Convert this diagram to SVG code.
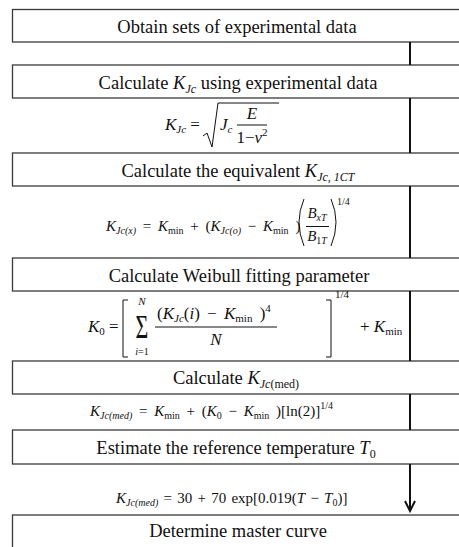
<svg xmlns="http://www.w3.org/2000/svg" width="459" height="547" viewBox="0 0 459 547">
<style>
.box{fill:#fff;stroke:#3a3a3a;stroke-width:1.3}
.t{font-family:"Liberation Serif","Times New Roman",serif;font-size:18.5px;fill:#111}
.f{font-family:"Liberation Serif","Times New Roman",serif;font-size:15px;fill:#111}
.i{font-style:italic}
.m{stroke:#111;stroke-width:1;fill:none}
.c{stroke:#111;stroke-width:2;fill:none}
</style>
<rect width="459" height="547" fill="#fff"/>
<g id="n1"><rect class="box" x="12.5" y="9.5" width="460" height="32.5"/>
<text class="t" x="237" y="33" text-anchor="middle">Obtain sets of experimental data</text></g>
<g id="n2"><rect class="box" x="12.5" y="65" width="460" height="33"/>
<text class="t" x="238" y="88.5" text-anchor="middle">Calculate <tspan class="i">K</tspan><tspan class="i" font-size="12" dy="4">Jc</tspan><tspan dy="-4"> using experimental data</tspan></text></g>
<g id="f1">
<text class="f" style="font-size:17px" x="165" y="130"><tspan class="i">K</tspan><tspan class="i" font-size="11" dy="3">Jc</tspan><tspan dy="-3"> =</tspan></text>
<polyline class="m" points="203,136 207,133 212,147 218,103 279,103"/>
<text class="f" style="font-size:17px" x="220" y="130"><tspan class="i">J</tspan><tspan class="i" font-size="11" dy="3">c</tspan></text>
<text class="f i" style="font-size:17px" x="252" y="119" text-anchor="middle">E</text>
<line class="m" x1="237" y1="125" x2="267" y2="125"/>
<text class="f" style="font-size:17px" x="252" y="143" text-anchor="middle">1−<tspan class="i">ν</tspan><tspan font-size="11" dy="-7">2</tspan></text>
</g>
<g id="n3"><rect class="box" x="12.5" y="153" width="460" height="33"/>
<text class="t" x="238" y="176.5" text-anchor="middle">Calculate the equivalent <tspan class="i">K</tspan><tspan class="i" font-size="12" dy="4">Jc, 1CT</tspan></text></g>
<g id="f2">
<text class="f" x="106" y="231" word-spacing="3"><tspan class="i">K</tspan><tspan class="i" font-size="10" dy="3">Jc(x)</tspan><tspan dy="-3"> = </tspan><tspan class="i">K</tspan><tspan font-size="10" dy="3">min</tspan><tspan dy="-3"> + (</tspan><tspan class="i">K</tspan><tspan class="i" font-size="10" dy="3">Jc(o)</tspan><tspan dy="-3"> − </tspan><tspan class="i">K</tspan><tspan font-size="10" dy="3">min</tspan><tspan dy="-3"> )</tspan></text>
<path class="m" d="M304,199 Q294,222 304,246"/>
<text class="f i" x="317" y="218" text-anchor="middle">B<tspan font-size="10" dy="3">xT</tspan></text>
<line class="m" x1="306" y1="226.5" x2="329" y2="226.5"/>
<text class="f" x="317" y="241" text-anchor="middle"><tspan class="i">B</tspan><tspan font-size="10" dy="3">1<tspan class="i">T</tspan></tspan></text>
<path class="m" d="M331,199 Q341,222 331,246"/>
<text class="f" x="337" y="205" style="font-size:10px">1/4</text>
</g>
<g id="n4"><rect class="box" x="12.5" y="258" width="460" height="33"/>
<text class="t" x="239" y="281.5" text-anchor="middle">Calculate Weibull fitting parameter</text></g>
<g id="f3">
<text class="f" style="font-size:17px" x="88" y="332"><tspan class="i">K</tspan><tspan font-size="11" dy="3">0</tspan><tspan dy="-3"> =</tspan></text>
<polyline class="m" points="128,300 123,300 123,357 128,357"/>
<text class="f" transform="translate(142,338) scale(1,1.55)" text-anchor="middle" style="font-size:22px">Σ</text>
<text class="f i" x="142" y="305" text-anchor="middle" style="font-size:11px">N</text>
<text class="f" x="142" y="355" text-anchor="middle" style="font-size:10px"><tspan class="i">i</tspan>=1</text>
<text class="f" style="font-size:17px" x="157" y="319" word-spacing="3">(<tspan class="i">K</tspan><tspan class="i" font-size="11" dy="3">Jc</tspan><tspan dy="-3">(<tspan class="i">i</tspan>) − </tspan><tspan class="i">K</tspan><tspan font-size="11" dy="3">min</tspan><tspan dy="-3"> )</tspan><tspan font-size="11" dy="-7">4</tspan></text>
<line class="m" x1="155" y1="327" x2="277" y2="327"/>
<text class="f i" style="font-size:17px" x="216" y="345" text-anchor="middle">N</text>
<polyline class="m" points="326,300 331,300 331,357 326,357"/>
<text class="f" x="335" y="298" style="font-size:11px">1/4</text>
<text class="f" style="font-size:17px" x="360" y="332">+ <tspan class="i">K</tspan><tspan font-size="11" dy="3">min</tspan></text>
</g>
<g id="n5"><rect class="box" x="12.5" y="361" width="460" height="33"/>
<text class="t" x="236" y="384" text-anchor="middle">Calculate <tspan class="i">K</tspan><tspan font-size="12" dy="4"><tspan class="i">Jc</tspan>(med)</tspan></text></g>
<g id="f4">
<text class="f" x="90" y="416" word-spacing="3"><tspan class="i">K</tspan><tspan class="i" font-size="10" dy="3">Jc(med)</tspan><tspan dy="-3"> = </tspan><tspan class="i">K</tspan><tspan font-size="10" dy="3">min</tspan><tspan dy="-3"> + (</tspan><tspan class="i">K</tspan><tspan font-size="10" dy="3">0</tspan><tspan dy="-3"> − </tspan><tspan class="i">K</tspan><tspan font-size="10" dy="3">min</tspan><tspan dy="-3"> )[ln(2)]</tspan><tspan font-size="10" dy="-7">1/4</tspan></text>
</g>
<g id="n6"><rect class="box" x="12.5" y="430" width="460" height="34"/>
<text class="t" x="236" y="453.5" text-anchor="middle">Estimate the reference temperature <tspan class="i">T</tspan><tspan font-size="12" dy="4">0</tspan></text></g>
<g id="f5">
<text class="f" x="116" y="503" word-spacing="1.5"><tspan class="i">K</tspan><tspan class="i" font-size="10" dy="3">Jc(med)</tspan><tspan dy="-3"> = 30 + 70 exp[0.019(</tspan><tspan class="i">T</tspan> − <tspan class="i">T</tspan><tspan font-size="10" dy="3">0</tspan><tspan dy="-3">)]</tspan></text>
</g>
<g id="n7"><rect class="box" x="12.5" y="515" width="460" height="40"/>
<text class="t" x="238" y="537" text-anchor="middle">Determine master curve</text></g>
<g id="connectors">
<line class="c" x1="410" y1="42" x2="410" y2="65"/>
<line class="c" x1="410" y1="98" x2="410" y2="153"/>
<line class="c" x1="410" y1="186" x2="410" y2="258"/>
<line class="c" x1="410" y1="291" x2="410" y2="361"/>
<line class="c" x1="410" y1="394" x2="410" y2="430"/>
<line class="c" x1="410" y1="464" x2="410" y2="511"/>
<polyline class="c" points="405,501 410,511 415,501"/>
</g>
</svg>
